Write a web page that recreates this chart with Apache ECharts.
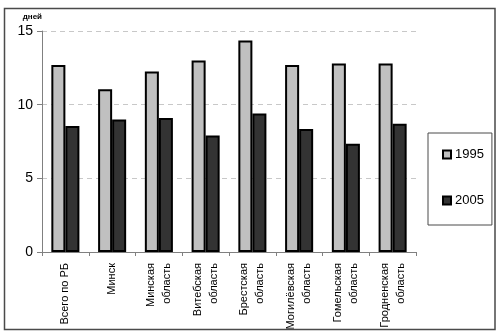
<!DOCTYPE html>
<html>
<head>
<meta charset="utf-8">
<script src="https://cdn.jsdelivr.net/npm/echarts@6/dist/echarts.min.js"></script>
<style>
  html, body { margin: 0; padding: 0; background: #fff; }
  #chart { width: 500px; height: 335px; }
</style>
</head>
<body>
<div id="chart"></div>
<script>
// Regions of Belarus
const categories = [
  'Всего по РБ',
  'Минск',
  'Минская\nобласть',
  'Витебская\nобласть',
  'Брестская\nобласть',
  'Могилёвская\nобласть',
  'Гомельская\nобласть',
  'Гродненская\nобласть'
];
// Average duration, days
const values1995 = [12.7, 11.05, 12.25, 13.0, 14.35, 12.7, 12.8, 12.8];
const values2005 = [8.55, 9.0, 9.1, 7.9, 9.4, 8.35, 7.35, 8.7];
const yTicks = [0, 5, 10, 15];
const seriesNames = ['1995', '2005'];
const unitLabel = 'дней';

const font = '"Liberation Sans", Arial, sans-serif';
const chart = echarts.init(document.getElementById('chart'), null, { renderer: 'canvas' });

chart.setOption({
  animation: false,
  backgroundColor: '#ffffff',
  graphic: [{
    type: 'rect',
    shape: { x: 4.5, y: 8.5, width: 490.5, height: 321 },
    style: { fill: 'none', stroke: '#4a4a4a', lineWidth: 1.5 },
    silent: true,
    z: -1
  }],
  grid: { left: 42, right: 84, top: 31, bottom: 83 },
  legend: {
    orient: 'vertical',
    left: 428,
    top: 133,
    padding: [15, 8, 18, 14],
    itemWidth: 8,
    itemHeight: 8,
    itemGap: 33,
    borderColor: '#4a4a4a',
    borderWidth: 1,
    icon: 'rect',
    textStyle: { fontFamily: font, fontSize: 13, color: '#000', padding: [0, 0, 0, -1] },
    data: seriesNames
  },
  xAxis: {
    type: 'category',
    data: categories,
    axisLine: { lineStyle: { color: '#808080', width: 1 } },
    axisTick: { show: true, length: 4, alignWithLabel: false, lineStyle: { color: '#808080' } },
    axisLabel: {
      rotate: 90,
      interval: 0,
      fontFamily: font,
      fontSize: 11,
      lineHeight: 16,
      color: '#000',
      margin: 11
    }
  },
  yAxis: {
    type: 'value',
    min: yTicks[0],
    max: yTicks[yTicks.length - 1],
    interval: 5,
    name: unitLabel,
    nameLocation: 'end',
    nameGap: 10,
    nameTextStyle: {
      fontFamily: font, fontSize: 8, fontWeight: 'bold', color: '#000',
      align: 'right', padding: [0, 0, 0, 0]
    },
    axisLine: { show: true, lineStyle: { color: '#808080', width: 1 } },
    axisTick: { show: true, length: 5, lineStyle: { color: '#808080' } },
    axisLabel: { fontFamily: font, fontSize: 14, color: '#000', margin: 9 },
    splitLine: { show: true, lineStyle: { color: '#c8c8c8', type: [5, 4], width: 1 } }
  },
  series: [
    {
      name: seriesNames[0],
      type: 'bar',
      data: values1995,
      barGap: '0%',
      barCategoryGap: '40%',
      itemStyle: { color: '#c0c0c0', borderColor: '#000', borderWidth: 2 }
    },
    {
      name: seriesNames[1],
      type: 'bar',
      data: values2005,
      barGap: '0%',
      barCategoryGap: '40%',
      itemStyle: { color: '#333333', borderColor: '#000', borderWidth: 2 }
    }
  ]
});
</script>
</body>
</html>
